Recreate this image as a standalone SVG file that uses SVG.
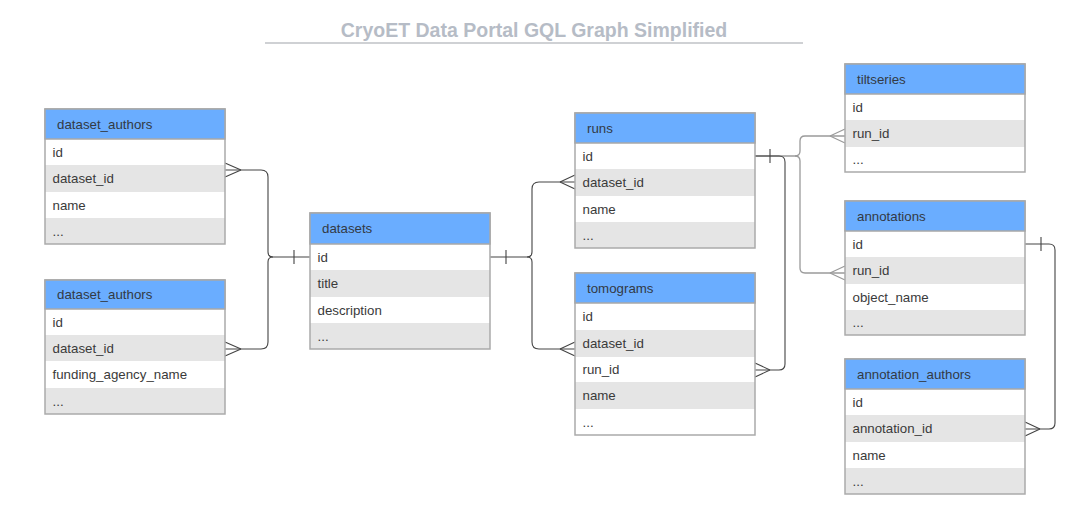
<svg xmlns="http://www.w3.org/2000/svg" width="1074" height="524" viewBox="0 0 1074 524">
<style>
.hd{fill:#6aadff;stroke:#a8a8a8;stroke-width:1.5}
.w{fill:#ffffff}
.g{fill:#e5e5e5}
.bd{fill:none;stroke:#aaaaaa;stroke-width:1.5}
.ht{font-family:"Liberation Sans",Arial,sans-serif;font-size:13.3px;fill:#333a44}
.rt{font-family:"Liberation Sans",Arial,sans-serif;font-size:13.3px;fill:#3a3a3a}
.c{fill:none;stroke:#444444;stroke-width:1.1}
.cl{fill:none;stroke:#9a9a9a;stroke-width:1.3}
</style>
<rect width="1074" height="524" fill="#ffffff"/>
<g id="title">
<text x="534" y="37" text-anchor="middle" font-family="'Liberation Sans',Arial,sans-serif" font-weight="bold" font-size="19.5" fill="#b6bcc6">CryoET Data Portal GQL Graph Simplified</text>
<line x1="265" y1="43" x2="803" y2="43" stroke="#a0a4aa" stroke-width="1.2"/>
</g>
<g id="connectors">
<path class="c" d="M310,257 H273 Q268,257 268,252 V177 Q268,170 261,170 H225"/>
<path class="c" d="M273,257 Q268,257 268,262 V342 Q268,349 261,349 H225"/>
<path class="c" d="M241,170 L225,163 M241,170 L225,177 M241,349 L225,342 M241,349 L225,356 M294,250 V264"/>
<path class="c" d="M490,257 H527 Q532,257 532,252 V189 Q532,182 539,182 H575"/>
<path class="c" d="M527,257 Q532,257 532,262 V342 Q532,349 539,349 H575"/>
<path class="c" d="M560,182 L575,175 M560,182 L575,189 M560,349 L575,342 M560,349 L575,356 M506,250 V264"/>
<path class="cl" d="M755,156 H795 Q800,156 800,151 V141 Q800,136 805,136 H845"/>
<path class="cl" d="M795,156 Q800,156 800,161 V268 Q800,273 805,273 H845"/>
<path class="cl" d="M830,136 L845,129 M830,136 L845,143 M830,273 L845,266 M830,273 L845,280"/>
<path class="c" d="M755,156 H779 Q785,156 785,162 V364 Q785,370 779,370 H755"/>
<path class="c" d="M770,370 L755,363 M770,370 L755,377 M770,149 V163"/>
<path class="c" d="M1025,244 H1049 Q1055,244 1055,250 V423 Q1055,429 1049,429 H1025"/>
<path class="c" d="M1040,429 L1025,422 M1040,429 L1025,436 M1041,237 V251"/>
</g>
<g id="dataset_authors_1">
<rect class="w" x="45" y="139" width="180" height="26"/>
<rect class="g" x="45" y="165" width="180" height="27"/>
<rect class="w" x="45" y="192" width="180" height="26"/>
<rect class="g" x="45" y="218" width="180" height="26"/>
<rect class="bd" x="45" y="109" width="180" height="135"/>
<rect class="hd" x="45" y="109" width="180" height="30"/>
<text class="ht" x="57" y="128.5">dataset_authors</text>
<text class="rt" x="52.5" y="156.5">id</text>
<text class="rt" x="52.5" y="183">dataset_id</text>
<text class="rt" x="52.5" y="209.5">name</text>
<text class="rt" x="52.5" y="235.5">...</text>
</g>
<g id="dataset_authors_2">
<rect class="w" x="45" y="309" width="180" height="26"/>
<rect class="g" x="45" y="335" width="180" height="26"/>
<rect class="w" x="45" y="361" width="180" height="27"/>
<rect class="g" x="45" y="388" width="180" height="26"/>
<rect class="bd" x="45" y="280" width="180" height="134"/>
<rect class="hd" x="45" y="280" width="180" height="29"/>
<text class="ht" x="57" y="299">dataset_authors</text>
<text class="rt" x="52.5" y="326.5">id</text>
<text class="rt" x="52.5" y="352.5">dataset_id</text>
<text class="rt" x="52.5" y="379">funding_agency_name</text>
<text class="rt" x="52.5" y="405.5">...</text>
</g>
<g id="datasets">
<rect class="w" x="310" y="244" width="180" height="26"/>
<rect class="g" x="310" y="270" width="180" height="27"/>
<rect class="w" x="310" y="297" width="180" height="26"/>
<rect class="g" x="310" y="323" width="180" height="26"/>
<rect class="bd" x="310" y="213" width="180" height="136"/>
<rect class="hd" x="310" y="213" width="180" height="31"/>
<text class="ht" x="322" y="233">datasets</text>
<text class="rt" x="317.5" y="261.5">id</text>
<text class="rt" x="317.5" y="288">title</text>
<text class="rt" x="317.5" y="314.5">description</text>
<text class="rt" x="317.5" y="340.5">...</text>
</g>
<g id="runs">
<rect class="w" x="575" y="143" width="180" height="26"/>
<rect class="g" x="575" y="169" width="180" height="27"/>
<rect class="w" x="575" y="196" width="180" height="26"/>
<rect class="g" x="575" y="222" width="180" height="26"/>
<rect class="bd" x="575" y="113" width="180" height="135"/>
<rect class="hd" x="575" y="113" width="180" height="30"/>
<text class="ht" x="587" y="132.5">runs</text>
<text class="rt" x="582.5" y="160.5">id</text>
<text class="rt" x="582.5" y="187">dataset_id</text>
<text class="rt" x="582.5" y="213.5">name</text>
<text class="rt" x="582.5" y="239.5">...</text>
</g>
<g id="tomograms">
<rect class="w" x="575" y="303" width="180" height="27"/>
<rect class="g" x="575" y="330" width="180" height="27"/>
<rect class="w" x="575" y="357" width="180" height="25"/>
<rect class="g" x="575" y="382" width="180" height="27"/>
<rect class="w" x="575" y="409" width="180" height="26"/>
<rect class="bd" x="575" y="273" width="180" height="162"/>
<rect class="hd" x="575" y="273" width="180" height="30"/>
<text class="ht" x="587" y="292.5">tomograms</text>
<text class="rt" x="582.5" y="321">id</text>
<text class="rt" x="582.5" y="348">dataset_id</text>
<text class="rt" x="582.5" y="374">run_id</text>
<text class="rt" x="582.5" y="400">name</text>
<text class="rt" x="582.5" y="426.5">...</text>
</g>
<g id="tiltseries">
<rect class="w" x="845" y="94" width="180" height="26"/>
<rect class="g" x="845" y="120" width="180" height="27"/>
<rect class="w" x="845" y="147" width="180" height="25"/>
<rect class="bd" x="845" y="64" width="180" height="108"/>
<rect class="hd" x="845" y="64" width="180" height="30"/>
<text class="ht" x="857" y="83.5">tiltseries</text>
<text class="rt" x="852.5" y="111.5">id</text>
<text class="rt" x="852.5" y="138">run_id</text>
<text class="rt" x="852.5" y="164">...</text>
</g>
<g id="annotations">
<rect class="w" x="845" y="231" width="180" height="26"/>
<rect class="g" x="845" y="257" width="180" height="27"/>
<rect class="w" x="845" y="284" width="180" height="26"/>
<rect class="g" x="845" y="310" width="180" height="25"/>
<rect class="bd" x="845" y="201" width="180" height="134"/>
<rect class="hd" x="845" y="201" width="180" height="30"/>
<text class="ht" x="857" y="220.5">annotations</text>
<text class="rt" x="852.5" y="248.5">id</text>
<text class="rt" x="852.5" y="275">run_id</text>
<text class="rt" x="852.5" y="301.5">object_name</text>
<text class="rt" x="852.5" y="327">...</text>
</g>
<g id="annotation_authors">
<rect class="w" x="845" y="389" width="180" height="26"/>
<rect class="g" x="845" y="415" width="180" height="27"/>
<rect class="w" x="845" y="442" width="180" height="26"/>
<rect class="g" x="845" y="468" width="180" height="26"/>
<rect class="bd" x="845" y="359" width="180" height="135"/>
<rect class="hd" x="845" y="359" width="180" height="30"/>
<text class="ht" x="857" y="378.5">annotation_authors</text>
<text class="rt" x="852.5" y="406.5">id</text>
<text class="rt" x="852.5" y="433">annotation_id</text>
<text class="rt" x="852.5" y="459.5">name</text>
<text class="rt" x="852.5" y="485.5">...</text>
</g>
</svg>
